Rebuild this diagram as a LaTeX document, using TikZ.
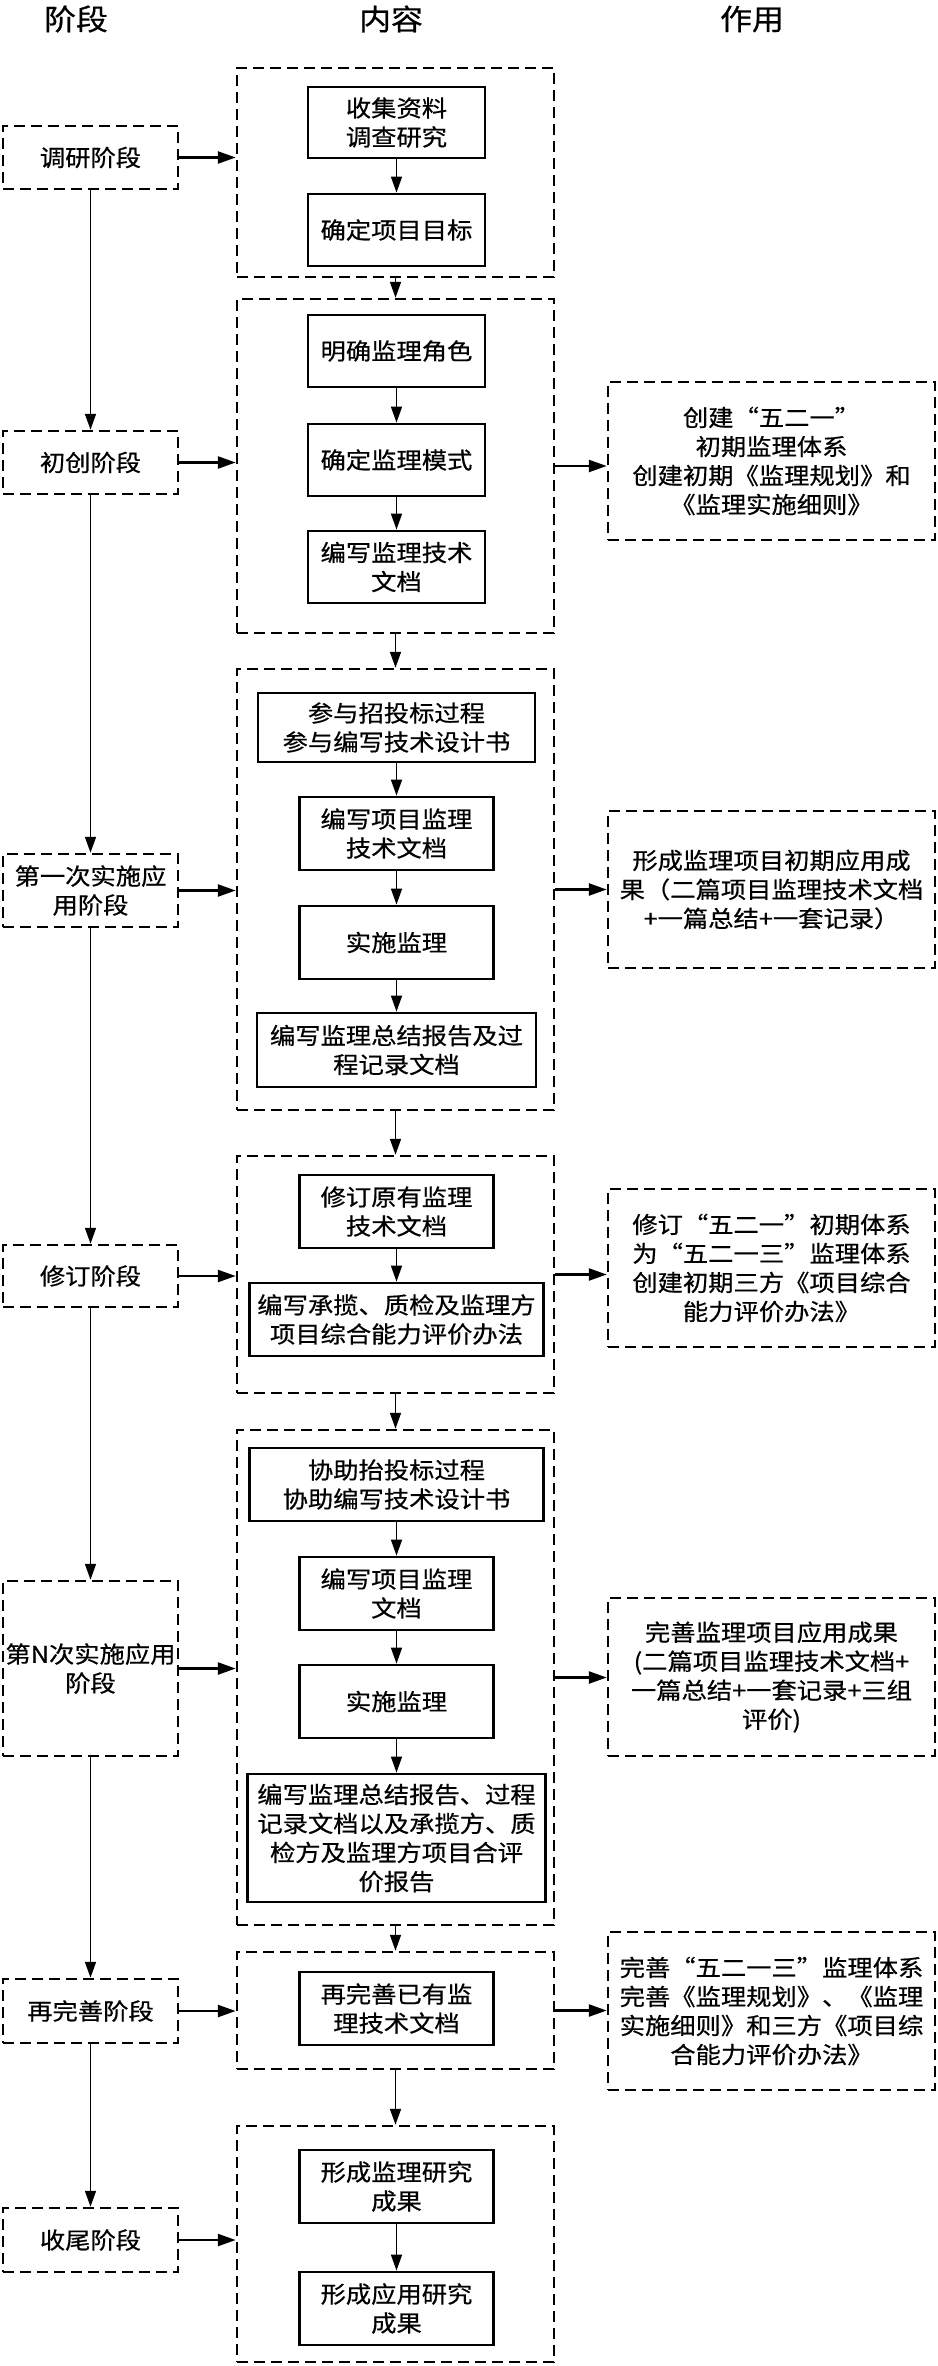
\documentclass[tikz,border=0pt]{standalone}
\usepackage{fontspec}
\setmainfont{Noto Sans CJK SC}[FakeStretch=1.1,FakeBold=0.6]
\usetikzlibrary{arrows.meta}
\newcommand{\qL}{\makebox[1.1em][r]{“}}
\newcommand{\qR}{\makebox[1.1em][l]{”}}
\begin{document}
\begin{tikzpicture}[x=1pt,y=-1pt,
  txt/.style={font=\fontsize{23}{29}\selectfont, align=center},
  sz/.style 2 args={minimum width=#1pt, minimum height=#2pt},
  dbox/.style={draw, line width=2.5pt, dash pattern=on 11pt off 6pt, inner sep=0pt, txt},
  sbox/.style={draw, line width=2.8pt, inner sep=0pt, txt},
  harr/.style={line width=2.5pt, -{Triangle[length=18pt,width=12pt]}},
  varr/.style={line width=1.6pt, -{Triangle[length=16pt,width=11pt]}},
  head/.style={font=\fontsize{29}{30}\selectfont}
]
\useasboundingbox (0,0) rectangle (937,2366);

% headers
\node[head] (h1) at (76,19) {阶段};
\node[head] (h2) at (391,19) {内容};
\node[head] (h3) at (752,19) {作用};

% stage boxes
\node[dbox, sz={175}{63}] (s1) at (90.5,157.5) {调研阶段};
\node[dbox, sz={175}{63}] (s2) at (90.5,462.5) {初创阶段};
\node[dbox, sz={175}{73}] (s3) at (90.5,890.5) {第一次实施应\\用阶段};
\node[dbox, sz={175}{62}] (s4) at (90.5,1276) {修订阶段};
\node[dbox, sz={175}{175}] (s5) at (90.5,1668.5) {第N次实施应用\\阶段};
\node[dbox, sz={175}{64}] (s6) at (90.5,2011) {再完善阶段};
\node[dbox, sz={175}{64}] (s7) at (90.5,2240) {收尾阶段};

% content boxes
\node[dbox, sz={317}{209}] (c1) at (395.5,172.5) {};
\node[dbox, sz={317}{334}] (c2) at (395.5,466) {};
\node[dbox, sz={317}{441}] (c3) at (395.5,889.5) {};
\node[dbox, sz={317}{237}] (c4) at (395.5,1274.5) {};
\node[dbox, sz={317}{495}] (c5) at (395.5,1677.5) {};
\node[dbox, sz={317}{117}] (c6) at (395.5,2010.5) {};
\node[dbox, sz={317}{236}] (c7) at (395.5,2244) {};

% result boxes
\node[dbox, sz={327}{158}] (r1) at (771.5,461) {创建\qL 五二一\qR\\初期监理体系\\创建初期《监理规划》和\\《监理实施细则》};
\node[dbox, sz={327}{157}] (r2) at (771.5,889.5) {形成监理项目初期应用成\\果（二篇项目监理技术文档\\+一篇总结+一套记录）};
\node[dbox, sz={327}{158}] (r3) at (771.5,1268) {修订\qL 五二一\qR 初期体系\\为\qL 五二一三\qR 监理体系\\创建初期三方《项目综合\\能力评价办法》};
\node[dbox, sz={327}{158}] (r4) at (771.5,1677) {完善监理项目应用成果\\(二篇项目监理技术文档+\\一篇总结+一套记录+三组\\评价)};
\node[dbox, sz={327}{158}] (r5) at (771.5,2011) {完善\qL 五二一三\qR 监理体系\\完善《监理规划》、《监理\\实施细则》和三方《项目综\\合能力评价办法》};

% inner boxes
\node[sbox, sz={177}{71}] (b11) at (396.5,122.5) {收集资料\\调查研究};
\node[sbox, sz={177}{72}] (b12) at (396.5,230) {确定项目目标};
\node[sbox, sz={177}{72}] (b21) at (396.5,351) {明确监理角色};
\node[sbox, sz={177}{72}] (b22) at (396.5,460) {确定监理模式};
\node[sbox, sz={177}{72}] (b23) at (396.5,567) {编写监理技术\\文档};
\node[sbox, sz={277}{69}] (b31) at (396.5,727.5) {参与招投标过程\\参与编写技术设计书};
\node[sbox, sz={194}{73}] (b32) at (396.5,833.5) {编写项目监理\\技术文档};
\node[sbox, sz={194}{73}] (b33) at (396.5,942.5) {实施监理};
\node[sbox, sz={279}{74}] (b34) at (396.5,1050) {编写监理总结报告及过\\程记录文档};
\node[sbox, sz={194}{73}] (b41) at (396.5,1211.5) {修订原有监理\\技术文档};
\node[sbox, sz={294}{73}] (b42) at (396.5,1319.5) {编写承揽、质检及监理方\\项目综合能力评价办法};
\node[sbox, sz={294}{73}] (b51) at (396.5,1484.5) {协助抬投标过程\\协助编写技术设计书};
\node[sbox, sz={194}{73}] (b52) at (396.5,1593.5) {编写项目监理\\文档};
\node[sbox, sz={194}{73}] (b53) at (396.5,1701.5) {实施监理};
\node[sbox, sz={298}{128}] (b54) at (396.5,1838) {编写监理总结报告、过程\\记录文档以及承揽方、质\\检方及监理方项目合评\\价报告};
\node[sbox, sz={194}{73}] (b61) at (396.5,2008.5) {再完善已有监\\理技术文档};
\node[sbox, sz={194}{73}] (b71) at (396.5,2186.5) {形成监理研究\\成果};
\node[sbox, sz={194}{73}] (b72) at (396.5,2308.5) {形成应用研究\\成果};

% stage chain
\draw[varr] (s1.south) -- (s2.north);
\draw[varr] (s2.south) -- (s3.north);
\draw[varr] (s3.south) -- (s4.north);
\draw[varr] (s4.south) -- (s5.north);
\draw[varr] (s5.south) -- (s6.north);
\draw[varr] (s6.south) -- (s7.north);

% stage -> content
\draw[harr] (s1.east) -- (s1.east -| c1.west);
\draw[harr] (s2.east) -- (s2.east -| c2.west);
\draw[harr] (s3.east) -- (s3.east -| c3.west);
\draw[harr] (s4.east) -- (s4.east -| c4.west);
\draw[harr] (s5.east) -- (s5.east -| c5.west);
\draw[harr] (s6.east) -- (s6.east -| c6.west);
\draw[harr] (s7.east) -- (s7.east -| c7.west);

% content -> content
\draw[varr] (c1.south) -- (c2.north);
\draw[varr] (c2.south) -- (c3.north);
\draw[varr] (c3.south) -- (c4.north);
\draw[varr] (c4.south) -- (c5.north);
\draw[varr] (c5.south) -- (c6.north);
\draw[varr] (c6.south) -- (c7.north);

% content -> results
\draw[harr] (c2.east) -- (c2.east -| r1.west);
\draw[harr] (c3.east) -- (c3.east -| r2.west);
\draw[harr] (c4.east) -- (c4.east -| r3.west);
\draw[harr] (c5.east) -- (c5.east -| r4.west);
\draw[harr] (c6.east) -- (c6.east -| r5.west);

% inner arrows
\draw[varr] (b11.south) -- (b12.north);
\draw[varr] (b21.south) -- (b22.north);
\draw[varr] (b22.south) -- (b23.north);
\draw[varr] (b31.south) -- (b32.north);
\draw[varr] (b32.south) -- (b33.north);
\draw[varr] (b33.south) -- (b34.north);
\draw[varr] (b41.south) -- (b42.north);
\draw[varr] (b51.south) -- (b52.north);
\draw[varr] (b52.south) -- (b53.north);
\draw[varr] (b53.south) -- (b54.north);
\draw[varr] (b71.south) -- (b72.north);
\end{tikzpicture}
\end{document}
